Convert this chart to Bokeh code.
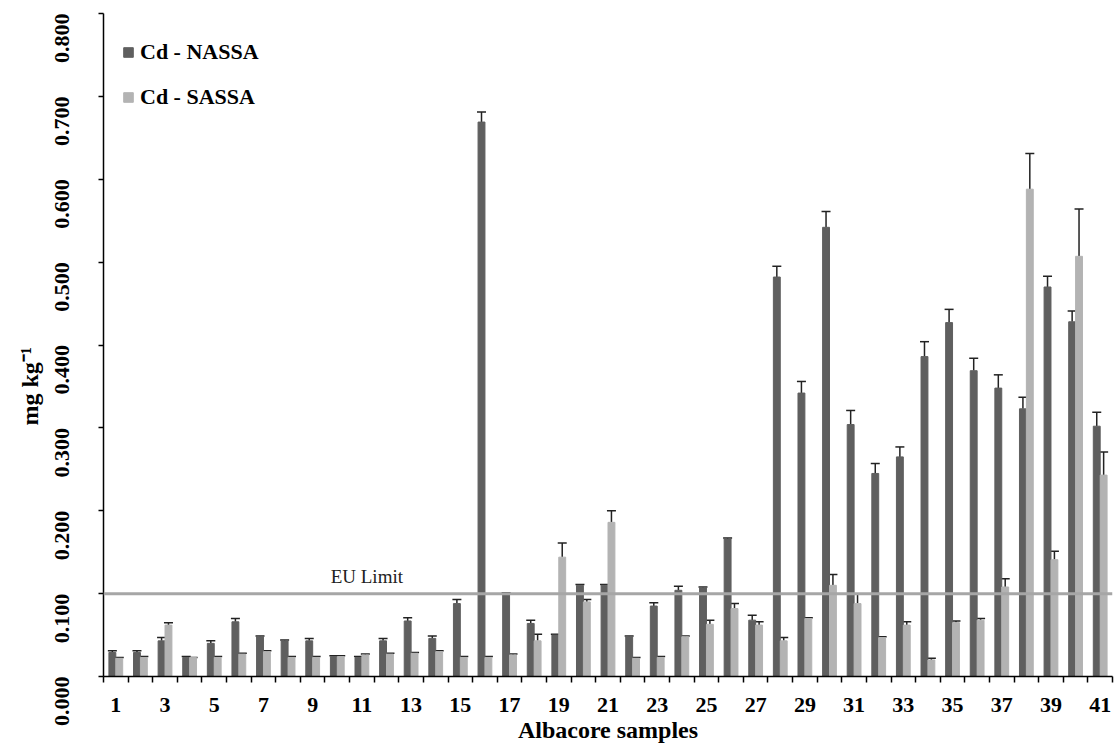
import math
from bokeh.plotting import figure
from bokeh.models import (ColumnDataSource, Whisker, TeeHead, Span, Label, Legend, LegendItem,
                          FixedTicker, NumeralTickFormatter, Range1d, Title)
from bokeh.embed import file_html
from bokeh.resources import INLINE

# ---------------- data ----------------
samples = list(range(1, 42))
nassa = [0.029, 0.029, 0.043, 0.023, 0.040, 0.066, 0.048, 0.043, 0.043, 0.024,
         0.023, 0.043, 0.067, 0.046, 0.088, 0.669, 0.100, 0.064, 0.050, 0.110,
         0.110, 0.048, 0.085, 0.104, 0.107, 0.166, 0.068, 0.482, 0.342, 0.542,
         0.304, 0.245, 0.265, 0.386, 0.427, 0.369, 0.348, 0.323, 0.470, 0.428,
         0.302]
nassa_err = [0.002, 0.002, 0.004, 0.001, 0.003, 0.004, 0.001, 0.001, 0.003, 0.001,
             0.001, 0.003, 0.004, 0.003, 0.005, 0.012, 0.001, 0.004, 0.001, 0.001,
             0.001, 0.001, 0.004, 0.005, 0.001, 0.001, 0.006, 0.013, 0.014, 0.019,
             0.017, 0.012, 0.012, 0.018, 0.016, 0.015, 0.016, 0.014, 0.013, 0.013,
             0.017]
sassa = [0.022, 0.023, 0.062, 0.023, 0.023, 0.027, 0.030, 0.023, 0.023, 0.024,
         0.026, 0.027, 0.028, 0.030, 0.023, 0.023, 0.026, 0.043, 0.144, 0.090,
         0.186, 0.022, 0.023, 0.048, 0.063, 0.082, 0.062, 0.043, 0.070, 0.110,
         0.088, 0.047, 0.062, 0.020, 0.065, 0.068, 0.108, 0.588, 0.141, 0.507,
         0.243]
sassa_err = [0.001, 0.001, 0.003, 0.000, 0.001, 0.001, 0.001, 0.001, 0.001, 0.001,
             0.001, 0.001, 0.001, 0.001, 0.001, 0.001, 0.001, 0.008, 0.017, 0.003,
             0.014, 0.001, 0.001, 0.001, 0.005, 0.006, 0.004, 0.004, 0.001, 0.013,
             0.012, 0.001, 0.004, 0.002, 0.002, 0.002, 0.010, 0.043, 0.010, 0.057,
             0.028]
x_tick_values = list(range(1, 42, 2))
x_tick_labels = [str(v) for v in x_tick_values]
y_ticks = [0.0, 0.1, 0.2, 0.3, 0.4, 0.5, 0.6, 0.7, 0.8]
eu_limit = 0.100
series_names = ["Cd - NASSA", "Cd - SASSA"]
y_title = "mg kg\u207b\u00b9"

FONT = "Liberation Serif"
DARK = "#5f5f5f"
LIGHT = "#b3b3b3"
OFF = 0.14
BAR_W = 0.28

p = figure(width=1114, height=745, x_range=Range1d(0.5, 41.5), y_range=Range1d(0, 0.8),
           output_backend="svg", toolbar_location=None,
           min_border_left=103, min_border_top=13, min_border_right=2, min_border_bottom=69)
p.outline_line_color = None
p.grid.visible = False
p.background_fill_color = "white"

src_n = ColumnDataSource(dict(x=[s - OFF for s in samples], top=nassa,
                              up=[v + e for v, e in zip(nassa, nassa_err)]))
src_s = ColumnDataSource(dict(x=[s + OFF for s in samples], top=sassa,
                              up=[v + e for v, e in zip(sassa, sassa_err)]))

rn = p.vbar(x="x", top="top", width=BAR_W, source=src_n, fill_color=DARK, line_color=DARK)
rs = p.vbar(x="x", top="top", width=BAR_W, source=src_s, fill_color=LIGHT, line_color=LIGHT)

for src in (src_n, src_s):
    w = Whisker(base="x", lower="top", upper="up", source=src, dimension="height",
                line_color="#222222", line_width=1.5, lower_head=None,
                upper_head=TeeHead(size=9, line_color="#222222", line_width=1.5))
    p.add_layout(w)

p.add_layout(Span(location=eu_limit, dimension="width", line_color="#a6a6a6", line_width=3))
p.add_layout(Label(x=11.2, y=eu_limit, y_offset=7, text="EU Limit", text_align="center",
                   text_baseline="bottom", text_font=FONT, text_font_size="19px",
                   text_color="#222222"))

# x axis
xa = p.xaxis[0]
xa.ticker = FixedTicker(ticks=x_tick_values, minor_ticks=[i + 0.5 for i in range(0, 42)])
xa.major_label_overrides = {v: l for v, l in zip(x_tick_values, x_tick_labels)}
xa.major_tick_out = 6
xa.major_tick_in = 0
xa.major_tick_line_color = None
xa.minor_tick_out = 6
xa.minor_tick_in = 0
xa.minor_tick_line_color = "black"
xa.minor_tick_line_width = 1.5
xa.axis_line_color = "black"
xa.axis_line_width = 1.5
xa.major_label_standoff = 15
xa.major_label_text_font = FONT
xa.major_label_text_font_style = "bold"
xa.major_label_text_font_size = "22px"
xa.major_label_text_color = "black"
xa.axis_label = "Albacore samples"
xa.axis_label_standoff = 2
xa.axis_label_text_font = FONT
xa.axis_label_text_font_style = "bold"
xa.axis_label_text_font_size = "24px"
xa.axis_label_text_color = "black"

# y axis: line, ticks and rotated labels
ya = p.yaxis[0]
ya.ticker = FixedTicker(ticks=y_ticks)
ya.formatter = NumeralTickFormatter(format="0.000")
ya.major_label_orientation = math.pi / 2
ya.major_tick_out = 5
ya.major_tick_in = 0
ya.minor_tick_line_color = None
ya.axis_line_color = "black"
ya.axis_line_width = 1.5
ya.major_tick_line_width = 1.5
ya.major_label_standoff = 37
ya.major_label_text_font = FONT
ya.major_label_text_font_style = "bold"
ya.major_label_text_font_size = "22px"
ya.major_label_text_color = "black"

# y title as a left-side title, starting ~250px above the frame bottom like the reference
p.add_layout(Title(text=y_title, align="left", offset=251, standoff=3,
                   text_font=FONT, text_font_style="bold", text_font_size="24px",
                   text_color="black"), "left")

legend = Legend(items=[LegendItem(label=series_names[0], renderers=[rn]),
                       LegendItem(label=series_names[1], renderers=[rs])],
                location=(19, 566), orientation="vertical", glyph_width=12, glyph_height=12,
                label_standoff=6, spacing=19, padding=0, margin=0,
                border_line_color=None, background_fill_alpha=0,
                label_text_font=FONT, label_text_font_style="bold",
                label_text_font_size="22px", label_text_color="black")
p.add_layout(legend)

open("out.html", "w").write(file_html(p, INLINE))
